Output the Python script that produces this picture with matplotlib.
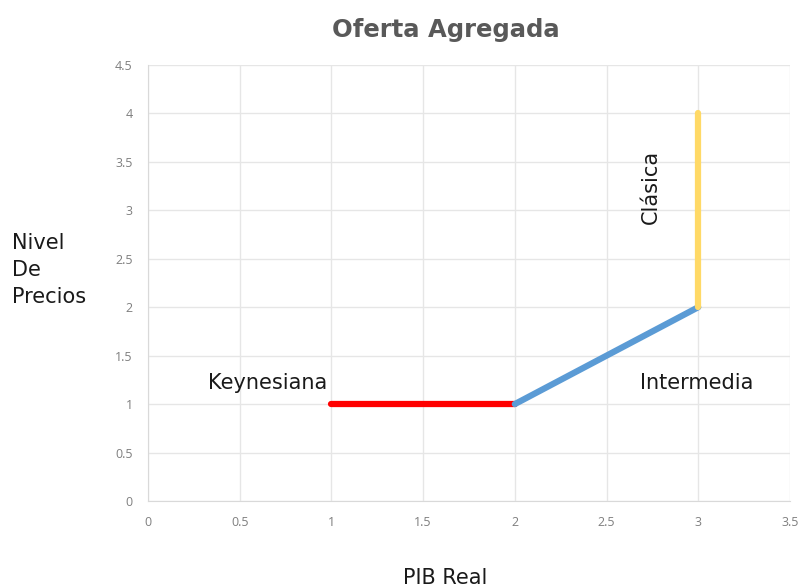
"""Oferta agregada: tramos keynesiano, intermedio y clasico."""

import matplotlib.pyplot as plt

# tramos de la curva (PIB real, nivel de precios)
keynes_x = [1, 2]
keynes_y = [1, 1]
inter_x = [2, 3]
inter_y = [1, 2]
clasica_x = [3, 3]
clasica_y = [2, 4]

x_ticks = [0, 0.5, 1, 1.5, 2, 2.5, 3, 3.5]
y_ticks = [0, 0.5, 1, 1.5, 2, 2.5, 3, 3.5, 4, 4.5]

# figure
fig = plt.figure(figsize=(8.02, 5.88), dpi=100)
ax = fig.add_axes([0.1845, 0.148, 0.8005, 0.7415])

kw = dict(lw=4.5, solid_capstyle='round')
ax.plot(keynes_x, keynes_y, color='#ff0000', **kw)
ax.plot(inter_x, inter_y, color='#5b9bd5', **kw)
ax.plot(clasica_x, clasica_y, color='#ffd966', **kw)

# axes and grid
ax.set_xlim(0, 3.5)
ax.set_ylim(0, 4.5)
ax.set_xticks(x_ticks)
ax.set_yticks(y_ticks)
ax.set_xticklabels([f'{t:g}' for t in x_ticks])
ax.set_yticklabels([f'{t:g}' for t in y_ticks])
ax.grid(color='#e6e6e6', lw=1)
ax.set_axisbelow(True)
ax.tick_params(length=0, pad=11, labelsize=9, labelcolor='#7f7f7f')
for lab in ax.get_xticklabels() + ax.get_yticklabels():
    lab.set_family('Open Sans')
for side in ['top', 'right']:
    ax.spines[side].set_visible(False)
for side in ['left', 'bottom']:
    ax.spines[side].set_color('#d9d9d9')

# texts
txt = dict(fontsize=15, color='#1a1a1a', family='DejaVu Sans')
ax.text(0.65, 1.22, 'Keynesiana', ha='center', va='center', **txt)
ax.text(2.99, 1.22, 'Intermedia', ha='center', va='center', **txt)
ax.text(2.74, 3.24, 'Clásica', ha='center', va='center', rotation=90, **txt)
fig.text(12/802, 1 - 270/588, 'Nivel\nDe\nPrecios', ha='left', va='center',
         linespacing=1.45, **txt)
fig.text(445/802, 1 - 578/588, 'PIB Real', ha='center', va='center', **txt)
fig.text(446/802, 1 - 30/588, 'Oferta Agregada', ha='center', va='center',
         fontsize=17.5, fontweight='bold', color='#595959', family='DejaVu Sans')

fig.savefig('out.png', dpi=100)
